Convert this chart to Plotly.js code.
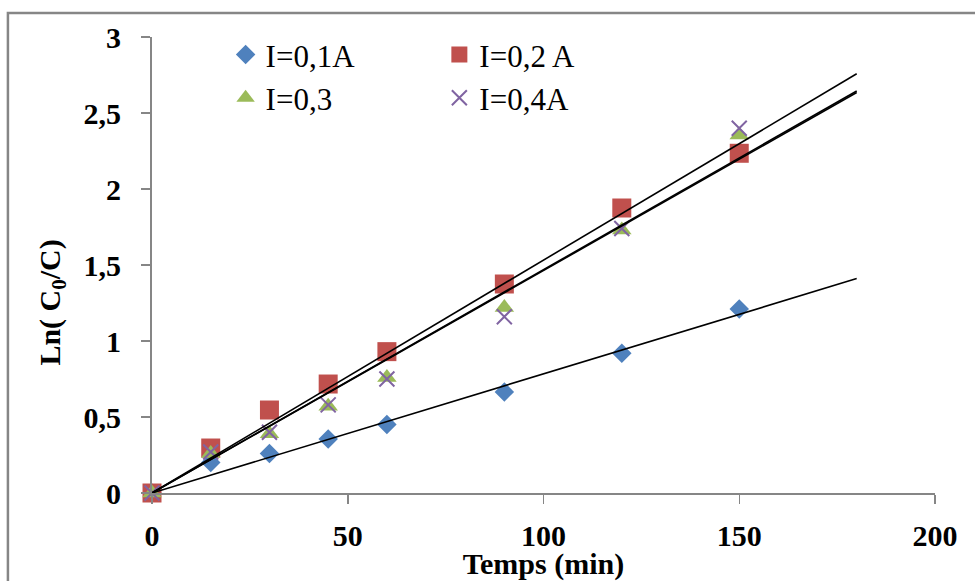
<!DOCTYPE html>
<html><head><meta charset="utf-8">
<script src="https://cdn.plot.ly/plotly-3.0.1.min.js"></script>
<style>html,body{margin:0;padding:0;background:#fff}#chart{width:975px;height:581px}</style>
</head><body><div id="chart"></div>
<script>
// ---- data ----
const timeMin = [0, 15, 30, 45, 60, 90, 120, 150];
const seriesNames = ['I=0,1A', 'I=0,2 A', 'I=0,3', 'I=0,4A'];
const lnI01 = [0, 0.20, 0.26, 0.355, 0.45, 0.665, 0.92, 1.21];
const lnI02 = [0, 0.296, 0.546, 0.717, 0.93, 1.375, 1.875, 2.235];
const lnI03 = [0, 0.26, 0.39, 0.57, 0.76, 1.22, 1.73, 2.355];
const lnI04 = [0, 0.27, 0.40, 0.58, 0.75, 1.16, 1.74, 2.40];
const trendEnd = 180;   // trend lines extend to t = 180 min

// ---- styles ----
const serif = 'Liberation Serif, Times New Roman, serif';
const colors = ['#4F81BD', '#C0504D', '#9BBB59', '#8064A2'];
const symbols = ['diamond', 'square', 'triangle-up', 'x-thin-open'];
const sizes = [15, 19, 17, 15];
const legendOf = ['legend', 'legend2', 'legend', 'legend2'];
const allSeries = [lnI01, lnI02, lnI03, lnI04];

// linear regression forced through origin (Excel trendline, intercept = 0)
function slopeThroughOrigin(xs, ys) {
  let sxy = 0, sxx = 0;
  for (let i = 0; i < xs.length; i++) { sxy += xs[i] * ys[i]; sxx += xs[i] * xs[i]; }
  return sxy / sxx;
}

const traces = [];
allSeries.forEach((ys, i) => {
  traces.push({
    x: timeMin, y: ys, name: seriesNames[i], type: 'scatter', mode: 'markers',
    cliponaxis: false, legend: legendOf[i],
    marker: {
      symbol: symbols[i], size: sizes[i], color: colors[i],
      line: symbols[i] === 'x-thin-open' ? {color: colors[i], width: 2} : {width: 0}
    }
  });
});
allSeries.forEach((ys, i) => {
  const m = slopeThroughOrigin(timeMin, ys);
  traces.push({
    x: [0, trendEnd], y: [0, m * trendEnd], type: 'scatter', mode: 'lines',
    showlegend: false, hoverinfo: 'skip', cliponaxis: false,
    line: {color: '#000', width: 1.6}
  });
});

const tickFont = {family: serif, size: 30, color: '#000', weight: 'bold'};
const legendFont = {family: serif, size: 31, color: '#000'};

const layout = {
  width: 975, height: 581,
  margin: {l: 152, r: 40, t: 37, b: 88, pad: 0},
  paper_bgcolor: '#fff', plot_bgcolor: '#fff',
  separators: ', ',
  showlegend: true,
  xaxis: {
    range: [0, 200], dtick: 50, tick0: 0, showgrid: false, zeroline: false,
    showline: true, linecolor: '#868686', linewidth: 2,
    ticks: 'outside', ticklen: 9, tickwidth: 1.5, tickcolor: '#868686',
    tickfont: tickFont, ticklabelstandoff: 6,
    title: {text: 'Temps (min)', font: tickFont, standoff: 0}
  },
  yaxis: {
    range: [0, 3], dtick: 0.5, tick0: 0, showgrid: false, zeroline: false,
    showline: true, linecolor: '#868686', linewidth: 2,
    ticks: 'outside', ticklen: 9, tickwidth: 1.5, tickcolor: '#868686',
    tickfont: tickFont, ticklabelstandoff: 14
  },
  legend: {
    x: 0.094, y: 1.02, xanchor: 'left', yanchor: 'top', orientation: 'v',
    bgcolor: 'rgba(0,0,0,0)', font: legendFont, tracegroupgap: 0
  },
  legend2: {
    x: 0.367, y: 1.02, xanchor: 'left', yanchor: 'top', orientation: 'v',
    bgcolor: 'rgba(0,0,0,0)', font: legendFont, tracegroupgap: 0
  },
  annotations: [{
    xref: 'paper', yref: 'paper', x: -0.128, y: 0.417,
    xanchor: 'center', yanchor: 'middle', textangle: -90, showarrow: false,
    text: 'Ln( C<sub>0</sub>/C)', font: tickFont
  }],
  shapes: [{
    type: 'rect', xref: 'paper', yref: 'paper',
    x0: -0.184, x1: 1.2, y0: -0.4, y1: 1.0526,
    line: {color: '#868686', width: 2.5}, fillcolor: 'rgba(0,0,0,0)', layer: 'below'
  }]
};

Plotly.newPlot('chart', traces, layout, {displayModeBar: false, staticPlot: true});
</script>
</body></html>
